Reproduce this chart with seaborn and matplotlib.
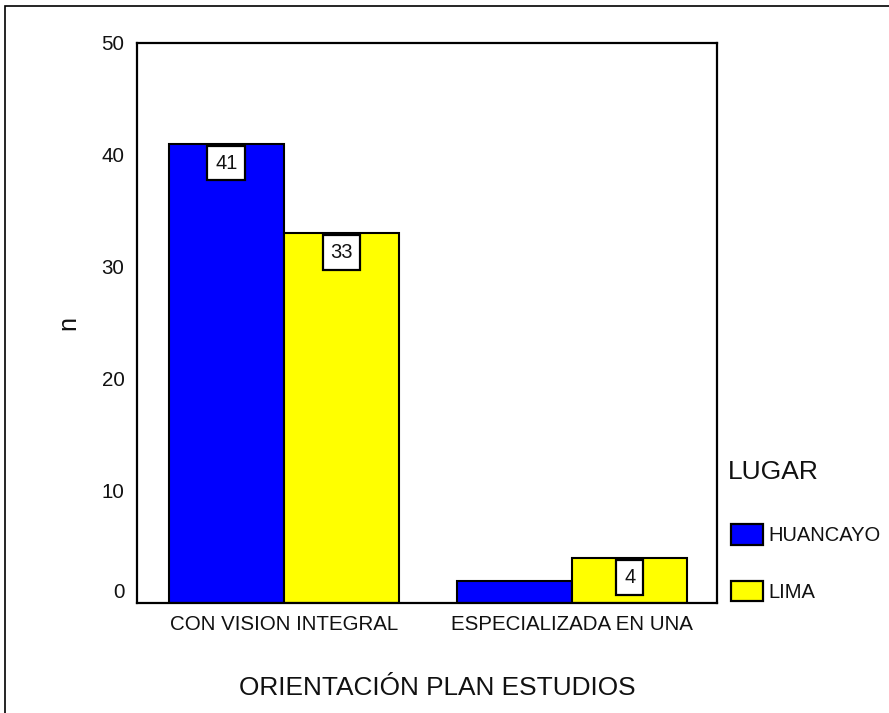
import pandas as pd
import matplotlib
matplotlib.use('Agg')
import matplotlib.pyplot as plt
import matplotlib.transforms as mtransforms
from matplotlib.patches import Patch, Rectangle
import seaborn as sns

# Data
categories = ['CON VISION INTEGRAL', 'ESPECIALIZADA EN UNA']
lugares = ['HUANCAYO', 'LIMA']
huancayo = [41, 2]
lima = [33, 4]
colors = ['#0000FF', '#FFFF00']
yticks = [0, 10, 20, 30, 40, 50]

df = pd.DataFrame({
    'ORIENTACION': categories * 2,
    'LUGAR': [lugares[0]] * len(categories) + [lugares[1]] * len(categories),
    'n': huancayo + lima,
})

sns.set_theme(style='white')
plt.rcParams['font.family'] = ['Liberation Sans', 'DejaVu Sans']

fig = plt.figure(figsize=(8.89, 7.13), dpi=100)
ax = fig.add_axes([137 / 889, 1 - 603 / 713, 580 / 889, 560 / 713])

sns.barplot(data=df, x='ORIENTACION', y='n', hue='LUGAR', hue_order=lugares,
            palette=colors, saturation=1, edgecolor='black', linewidth=1.5,
            width=0.8, ax=ax, legend=False)

ax.set_xlim(-0.51, 1.503)
ax.set_ylim(0, 50)
ax.set_yticks(yticks)
for s in ax.spines.values():
    s.set_linewidth(1.6)
    s.set_color('black')
ax.tick_params(axis='both', direction='out', length=3, width=2, color='black',
               labelsize=14.8, labelcolor='#111111', pad=6)

# boxed value labels (skip bars too short to hold the box)
for bars in ax.containers:
    for bar in bars:
        h = bar.get_height()
        if h < 3:
            continue
        ax.annotate(f'{int(h)}', (bar.get_x() + bar.get_width() / 2, h),
                    xytext=(0, -7), textcoords='offset points',
                    ha='center', va='top', fontsize=14.5, color='#111111',
                    bbox=dict(boxstyle='square,pad=0.38', fc='white', ec='black', lw=1.6))

ax.set_xlabel('ORIENTACIÓN PLAN ESTUDIOS', fontsize=18.9, color='#111111', va='center')
ax.xaxis.set_label_coords(0.517, -0.152)
ax.set_ylabel('n', fontsize=18, color='#111111', rotation=90, va='center')
ax.yaxis.set_label_coords(-0.118, 0.5)

handles = [Patch(facecolor=c, edgecolor='black', linewidth=1.6) for c in colors]
leg = ax.legend(handles, lugares, title='LUGAR', loc='upper left',
                bbox_to_anchor=(731 / 889, 1 - 465 / 713), bbox_transform=fig.transFigure,
                frameon=False, fontsize=14.5, title_fontsize=19, borderpad=0, borderaxespad=0,
                handlelength=1.6, handleheight=1.2, handletextpad=0.25,
                labelspacing=1.75, alignment='left')
for t in leg.get_texts():
    t.set_color('#111111')
leg.get_title().set_color('#111111')

fig.canvas.draw()
# the "0" label sits a bit above its tick, as in the original
lab0 = ax.get_yticklabels()[0]
lab0.set_transform(lab0.get_transform() + mtransforms.ScaledTranslation(0, 9 / 72, fig.dpi_scale_trans))
# legend title a little higher than the entries spacing gives
title = leg.get_title()
title.set_transform(title.get_transform() + mtransforms.ScaledTranslation(-2 / 72, 3.6 / 72, fig.dpi_scale_trans))

# outer frame around the chart
fig.add_artist(Rectangle((5 / 889, -0.5), 2, 0.5 + 1 - 6 / 713, transform=fig.transFigure,
                         fill=False, edgecolor='black', linewidth=1.2))

fig.savefig('out.png', dpi=100)
